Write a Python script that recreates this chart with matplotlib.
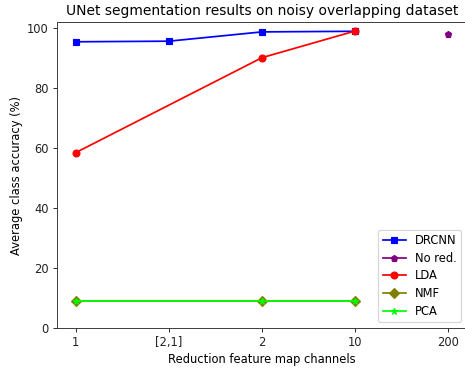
import matplotlib
matplotlib.use("Agg")
import matplotlib.pyplot as plt

categories = ["1", "[2,1]", "2", "10", "200"]

drcnn_x = ["1", "[2,1]", "2", "10"]
drcnn_y = [95.5, 95.7, 98.8, 99.0]

nored_x = ["200"]
nored_y = [98.2]

lda_x = ["1", "2", "10"]
lda_y = [58.5, 90.2, 99.1]

nmf_x = ["1", "2", "10"]
nmf_y = [9.0, 9.0, 9.0]

pca_x = ["1", "2", "10"]
pca_y = [9.0, 9.0, 9.0]

pos = {c: i for i, c in enumerate(categories)}

DPI = 83
fig = plt.figure(figsize=(465 / DPI, 370 / DPI), dpi=DPI)
ax = fig.add_axes([57 / 465, 42 / 370, 410 / 465, 306 / 370])

ax.plot([pos[c] for c in drcnn_x], drcnn_y, color="blue", marker="s", label="DRCNN")
ax.plot([pos[c] for c in nored_x], nored_y, color="purple", marker="p", label="No red.")
ax.plot([pos[c] for c in lda_x], lda_y, color="red", marker="o", label="LDA")
ax.plot([pos[c] for c in nmf_x], nmf_y, color="olive", marker="D", label="NMF")
ax.plot([pos[c] for c in pca_x], pca_y, color="lime", marker="*", label="PCA")

ax.set_xticks(range(len(categories)))
ax.set_xticklabels(categories)
ax.set_xlim(-0.2, 4.2)
ax.set_ylim(0, 102.1)
ax.set_yticks([0, 20, 40, 60, 80, 100])

for sp in ax.spines.values():
    sp.set_color("#333333")
ax.tick_params(colors="#222222")

ax.set_title("UNet segmentation results on noisy overlapping dataset")
ax.set_xlabel("Reduction feature map channels", labelpad=3)
ax.set_ylabel("Average class accuracy (%)")
ax.legend(loc="lower right", labelspacing=0.4)

fig.savefig("out.png", dpi=DPI)
